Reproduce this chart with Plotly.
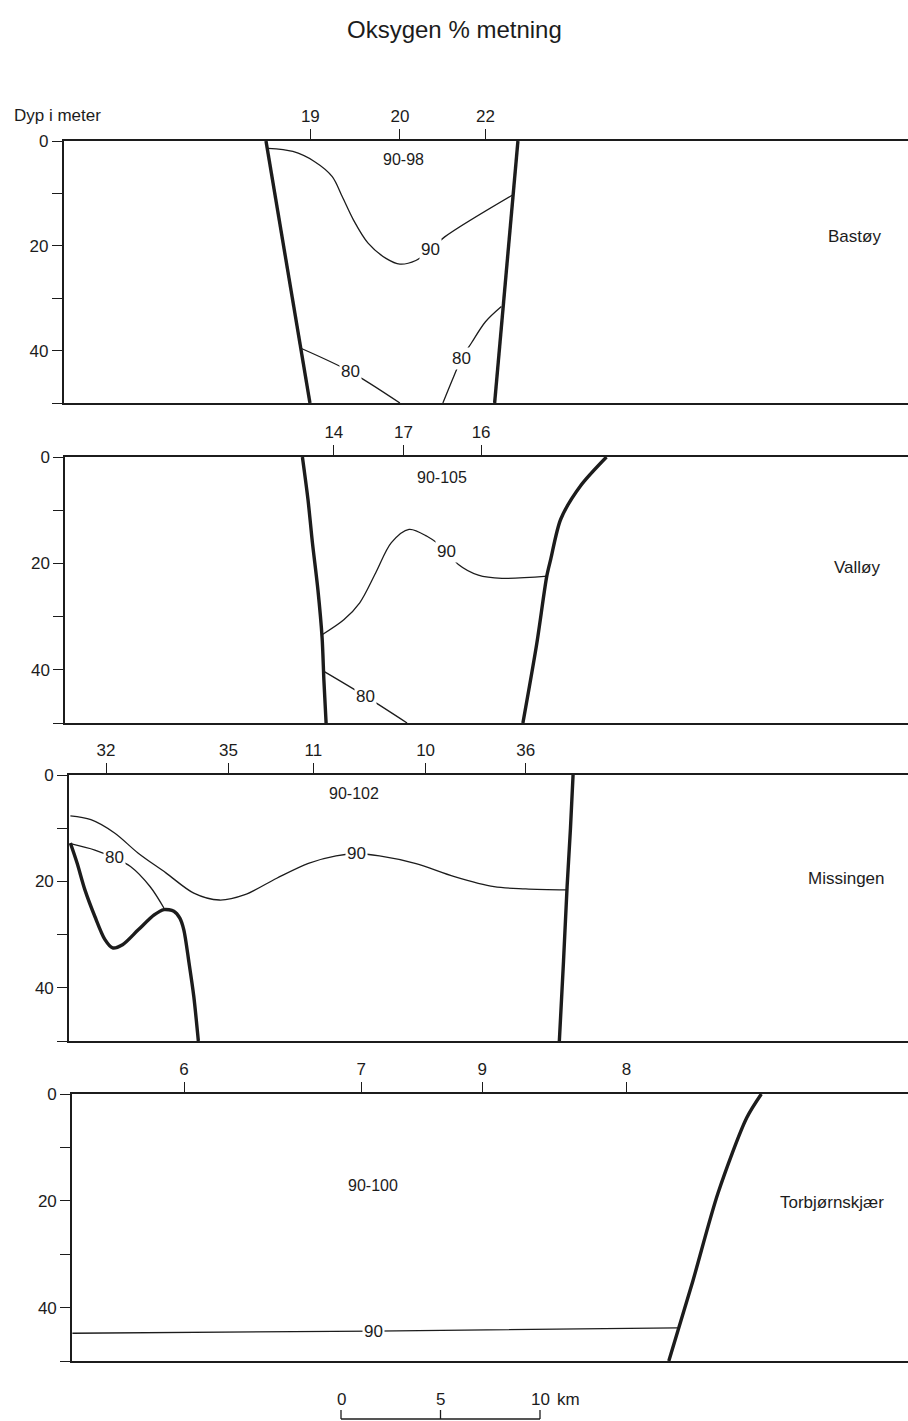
import plotly.graph_objects as go

TITLE = "Oksygen % metning"
Y_LABEL = "Dyp i meter"
DEPTH_TICKS = [0, 10, 20, 30, 40, 50]
DEPTH_TICK_TEXT = ["0", "", "20", "", "40", ""]

# ---------------- Bastøy ----------------
bastoy_name = "Bastøy"
bastoy_stations = ["19", "20", "22"]
bastoy_station_km = [12.4, 16.9, 21.2]
bastoy_range_label = "90-98"
bastoy_range_pos = [17.08, 3.6]
bastoy_west_km = [10.17, 12.38]
bastoy_west_m = [0, 50]
bastoy_east_km = [22.83, 21.66]
bastoy_east_m = [0, 50]
bastoy_iso90_km = [10.27, 11.52, 12.6, 13.5, 14.0, 14.57, 15.3, 16.2, 16.9, 17.7, 18.43, 19.15, 22.56]
bastoy_iso90_m = [1.4, 2.0, 3.9, 6.8, 10.6, 15.1, 19.5, 22.4, 23.5, 22.8, 20.8, 18.3, 10.3]
bastoy_iso80w_km = [11.95, 14.4, 16.9]
bastoy_iso80w_m = [39.6, 44.0, 50]
bastoy_iso80e_km = [19.06, 19.6, 20.0, 20.5, 21.2, 22.0]
bastoy_iso80e_m = [50, 45, 41.5, 38.5, 34.5, 31.6]
bastoy_iso_labels = ["90", "80", "80"]
bastoy_iso_label_km = [18.43, 14.4, 20.0]
bastoy_iso_label_m = [20.8, 44.0, 41.5]

# ---------------- Valløy ----------------
valloy_name = "Valløy"
valloy_stations = ["14", "17", "16"]
valloy_station_km = [13.5, 17.0, 20.9]
valloy_range_label = "90-105"
valloy_range_pos = [18.93, 3.8]
valloy_west_km = [11.92, 12.2, 12.42, 12.7, 12.91, 13.0, 13.11]
valloy_west_m = [0, 8, 16, 25, 34, 42, 50]
valloy_east_km = [27.2, 25.9, 24.9, 24.4, 24.2, 23.7, 23.0]
valloy_east_m = [0, 5.4, 11.7, 19.2, 22.4, 35, 50]
valloy_iso90_km = [12.91, 14.0, 14.8, 15.6, 16.39, 17.28, 18.18, 19.17, 19.76, 20.76, 21.95, 24.23]
valloy_iso90_m = [33.4, 30.6, 27.4, 21.8, 16.1, 13.6, 14.9, 17.7, 20.2, 22.2, 22.8, 22.4]
valloy_iso80_km = [13.0, 15.1, 17.18]
valloy_iso80_m = [40.3, 45.0, 50]
valloy_iso_labels = ["90", "80"]
valloy_iso_label_km = [19.17, 15.1]
valloy_iso_label_m = [17.7, 45.0]

# ---------------- Missingen ----------------
missingen_name = "Missingen"
missingen_stations = ["32", "35", "11", "10", "36"]
missingen_station_km = [1.86, 8.01, 12.28, 17.92, 22.95]
missingen_range_label = "90-102"
missingen_range_pos = [14.31, 3.4]
missingen_east_km = [25.33, 25.2, 25.03, 24.85, 24.64]
missingen_east_m = [0, 10, 21, 35, 50]
missingen_west_km = [0.07, 0.41, 0.80, 1.30, 1.80, 2.19, 2.69, 3.48, 4.28, 4.77, 5.27, 5.57, 5.77, 6.03, 6.27, 6.50]
missingen_west_m = [12.8, 16.6, 21.6, 26.6, 30.9, 32.5, 31.9, 29.1, 26.3, 25.3, 25.6, 26.9, 29.1, 35.3, 41.6, 50]
missingen_iso80_km = [0.07, 1.3, 2.29, 3.09, 4.08, 4.77]
missingen_iso80_m = [12.9, 14.1, 15.6, 17.2, 21.0, 25.0]
missingen_iso90_km = [0.07, 1.1, 2.29, 3.48, 4.87, 6.27, 7.56, 8.84, 10.44, 12.03, 13.42, 14.47, 15.6, 17.39, 19.37, 21.36, 22.95, 25.0]
missingen_iso90_m = [7.7, 8.4, 10.9, 14.7, 18.4, 22.2, 23.5, 22.5, 19.4, 16.6, 15.2, 14.8, 15.2, 16.6, 19.1, 21.0, 21.4, 21.6]
missingen_iso_labels = ["90", "80"]
missingen_iso_label_km = [14.47, 2.29]
missingen_iso_label_m = [14.8, 15.6]

# ---------------- Torbjørnskjær ----------------
torb_name = "Torbjørnskjær"
torb_stations = ["6", "7", "9", "8"]
torb_station_km = [5.63, 14.54, 20.62, 27.86]
torb_range_label = "90-100"
torb_range_pos = [15.15, 17.1]
torb_east_km = [34.64, 33.9, 32.46, 31.2, 29.99]
torb_east_m = [0, 4.5, 18.6, 35, 50]
torb_iso90_km = [0.02, 15.15, 30.43]
torb_iso90_m = [44.8, 44.4, 43.8]
torb_iso_labels = ["90"]
torb_iso_label_km = [15.15]
torb_iso_label_m = [44.4]

# ---------------- scale bar ----------------
scale_km = [0, 5, 10]
scale_labels = ["0", "5", "10"]

# ---------------- layout helpers ----------------
FONT = "Liberation Sans, Arial, Helvetica, sans-serif"
INK = "#1c1c1c"
W, H = 908, 1421

panels = [
    dict(name=bastoy_name, name_pos=[39.72, 18.3], st=bastoy_stations, st_km=bastoy_station_km,
         rng=bastoy_range_label, rng_pos=bastoy_range_pos,
         thick=[(bastoy_west_km, bastoy_west_m), (bastoy_east_km, bastoy_east_m)],
         thin=[(bastoy_iso90_km, bastoy_iso90_m), (bastoy_iso80w_km, bastoy_iso80w_m),
               (bastoy_iso80e_km, bastoy_iso80e_m)],
         labels=(bastoy_iso_labels, bastoy_iso_label_km, bastoy_iso_label_m),
         left_px=63.6, top_px=141, bot_px=403),
    dict(name=valloy_name, name_pos=[39.79, 20.8], st=valloy_stations, st_km=valloy_station_km,
         rng=valloy_range_label, rng_pos=valloy_range_pos,
         thick=[(valloy_west_km, valloy_west_m), (valloy_east_km, valloy_east_m)],
         thin=[(valloy_iso90_km, valloy_iso90_m), (valloy_iso80_km, valloy_iso80_m)],
         labels=(valloy_iso_labels, valloy_iso_label_km, valloy_iso_label_m),
         left_px=65.2, top_px=457, bot_px=723),
    dict(name=missingen_name, name_pos=[39.05, 19.5], st=missingen_stations, st_km=missingen_station_km,
         rng=missingen_range_label, rng_pos=missingen_range_pos,
         thick=[(missingen_west_km, missingen_west_m), (missingen_east_km, missingen_east_m)],
         thin=[(missingen_iso90_km, missingen_iso90_m), (missingen_iso80_km, missingen_iso80_m)],
         labels=(missingen_iso_labels, missingen_iso_label_km, missingen_iso_label_m),
         left_px=69, top_px=775, bot_px=1041),
    dict(name=torb_name, name_pos=[38.19, 20.4], st=torb_stations, st_km=torb_station_km,
         rng=torb_range_label, rng_pos=torb_range_pos,
         thick=[(torb_east_km, torb_east_m)],
         thin=[(torb_iso90_km, torb_iso90_m)],
         labels=(torb_iso_labels, torb_iso_label_km, torb_iso_label_m),
         left_px=72, top_px=1094, bot_px=1361),
]

PX_PER_KM = 19.9

fig = go.Figure()
annotations = []
shapes = []
layout = dict(
    width=W, height=H, margin=dict(l=0, r=0, t=0, b=0, autoexpand=False),
    paper_bgcolor="white", plot_bgcolor="white", showlegend=False,
    font=dict(family=FONT, color=INK, size=17),
)

for i, p in enumerate(panels, 1):
    sfx = "" if i == 1 else str(i)
    xref, yref = f"x{sfx}", f"y{sfx}"
    xmax = (W - p["left_px"]) / PX_PER_KM
    layout[f"xaxis{sfx}"] = dict(
        domain=[p["left_px"] / W, 1.0], range=[0, xmax], side="top", anchor=yref,
        tickmode="array", tickvals=p["st_km"], ticktext=p["st"], automargin=False,
        ticks="outside", ticklen=10, tickwidth=1.3, tickcolor=INK,
        showline=True, linewidth=1.6, linecolor=INK, mirror=True,
        showgrid=False, zeroline=False, tickfont=dict(size=17, color=INK, family=FONT),
    )
    layout[f"yaxis{sfx}"] = dict(
        domain=[1 - p["bot_px"] / H, 1 - p["top_px"] / H], range=[50, 0], anchor=xref,
        tickmode="array", tickvals=DEPTH_TICKS, ticktext=DEPTH_TICK_TEXT, automargin=False,
        ticks="outside", ticklen=10, tickwidth=1.3, tickcolor=INK,
        showline=True, linewidth=1.6, linecolor=INK, mirror=False,
        showgrid=False, zeroline=False, tickfont=dict(size=17, color=INK, family=FONT),
    )
    for xs, ys in p["thick"]:
        fig.add_trace(go.Scatter(x=xs, y=ys, mode="lines", xaxis=xref, yaxis=yref,
                                 line=dict(color=INK, width=3.4, shape="spline", smoothing=0.8),
                                 hoverinfo="skip"))
    for xs, ys in p["thin"]:
        fig.add_trace(go.Scatter(x=xs, y=ys, mode="lines", xaxis=xref, yaxis=yref,
                                 line=dict(color=INK, width=1.3, shape="spline", smoothing=0.9),
                                 hoverinfo="skip"))
    txts, lx, ly = p["labels"]
    for t, xx, yy in zip(txts, lx, ly):
        annotations.append(dict(x=xx, y=yy, xref=xref, yref=yref, text=t, showarrow=False,
                                bgcolor="white", borderpad=1, yanchor="middle",
                                font=dict(size=17, color=INK, family=FONT)))
    annotations.append(dict(x=p["rng_pos"][0], y=p["rng_pos"][1], xref=xref, yref=yref,
                            text=p["rng"], showarrow=False, yanchor="middle",
                            font=dict(size=16, color=INK, family=FONT)))
    annotations.append(dict(x=p["name_pos"][0], y=p["name_pos"][1], xref=xref, yref=yref,
                            text=p["name"], showarrow=False, yanchor="middle",
                            font=dict(size=17, color=INK, family=FONT)))

# Title and depth label
annotations.append(dict(x=0.5, y=1 - 29 / H, xref="paper", yref="paper", text=TITLE,
                        showarrow=False, yanchor="middle", xanchor="center",
                        font=dict(size=24, color=INK, family=FONT)))
annotations.append(dict(x=12 / W, y=1 - 115 / H, xref="paper", yref="paper", text=Y_LABEL,
                        xanchor="left", yanchor="middle", showarrow=False,
                        font=dict(size=17, color=INK, family=FONT)))

# Scale bar on the km axis of the last panel
SB_ORIGIN = (341 - panels[-1]["left_px"]) / PX_PER_KM
sb_y = 1 - 1419 / H
sb_top = 1 - 1410 / H
shapes.append(dict(type="line", xref="x4", yref="paper", x0=SB_ORIGIN + scale_km[0],
                   x1=SB_ORIGIN + scale_km[-1], y0=sb_y, y1=sb_y,
                   line=dict(color=INK, width=1.3)))
for k, lab in zip(scale_km, scale_labels):
    shapes.append(dict(type="line", xref="x4", yref="paper", x0=SB_ORIGIN + k, x1=SB_ORIGIN + k,
                       y0=sb_y, y1=sb_top, line=dict(color=INK, width=1.3)))
    annotations.append(dict(x=SB_ORIGIN + k, y=1 - 1399 / H, xref="x4", yref="paper", text=lab,
                            showarrow=False, yanchor="middle",
                            font=dict(size=17, color=INK, family=FONT)))
annotations.append(dict(x=SB_ORIGIN + scale_km[-1] + 0.75, y=1 - 1399 / H, xref="x4", yref="paper",
                        text="km", xanchor="left", yanchor="middle", showarrow=False,
                        font=dict(size=17, color=INK, family=FONT)))

layout["annotations"] = annotations
layout["shapes"] = shapes
fig.update_layout(**layout)
fig.write_html("out.html", config={"displayModeBar": False},
               post_script="document.body.style.margin='0';")
